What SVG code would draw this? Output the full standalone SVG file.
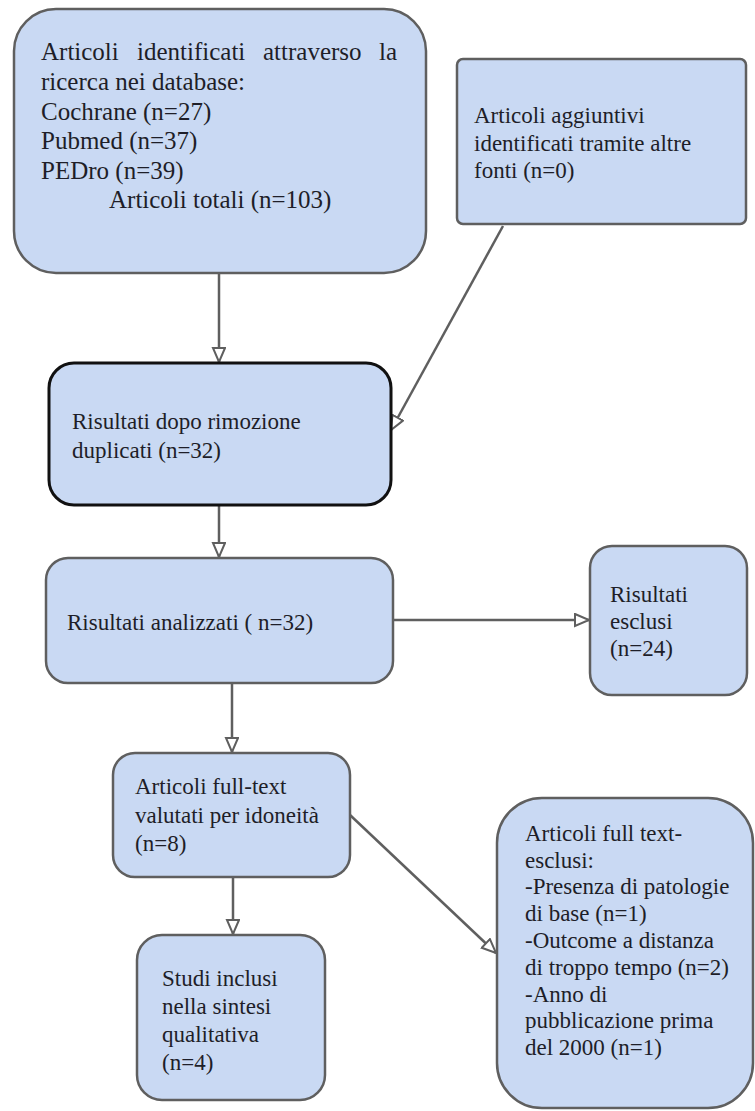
<svg xmlns="http://www.w3.org/2000/svg" width="755" height="1111" viewBox="0 0 755 1111">
<style>
.box{fill:#c9d9f3;stroke:#5f5f5f;stroke-width:2.5}
.dark{stroke:#111;stroke-width:3}
text{font-family:'Liberation Serif',Tinos,'DejaVu Serif',serif;font-size:23px;fill:#1e1e28}
.big{font-size:25px}
.edge{fill:none;stroke:#5f5f5f;stroke-width:2.5}
</style>
<defs>
<marker id="arr" markerUnits="userSpaceOnUse" markerWidth="18" markerHeight="16" refX="15" refY="7" orient="auto">
<path d="M1,1 L15,7 L1,13 Z" fill="#fff" stroke="#5f5f5f" stroke-width="2"/>
</marker>
</defs>
<rect width="755" height="1111" fill="#fff"/>
<g id="connectors">
<line class="edge" x1="219" y1="273" x2="219" y2="362" marker-end="url(#arr)"/>
<line class="edge" x1="503" y1="226" x2="391" y2="430" marker-end="url(#arr)"/>
<line class="edge" x1="219" y1="505" x2="219" y2="557" marker-end="url(#arr)"/>
<line class="edge" x1="393" y1="620" x2="589" y2="620" marker-end="url(#arr)"/>
<line class="edge" x1="232" y1="683" x2="232" y2="752" marker-end="url(#arr)"/>
<line class="edge" x1="233" y1="877" x2="233" y2="934" marker-end="url(#arr)"/>
<line class="edge" x1="350" y1="815" x2="496" y2="953" marker-end="url(#arr)"/>
</g>
<g id="n1">
<rect class="box" x="14" y="9" width="412" height="264" rx="42"/>
<text class="big" y="60"><tspan x="41">Articoli</tspan><tspan x="137">identificati</tspan><tspan x="263">attraverso</tspan><tspan x="379">la</tspan></text>
<text class="big" x="41" y="90">ricerca nei database:</text>
<text class="big" x="41" y="120">Cochrane (n=27)</text>
<text class="big" x="41" y="149">Pubmed (n=37)</text>
<text class="big" x="41" y="179">PEDro (n=39)</text>
<text class="big" x="109" y="208">Articoli totali (n=103)</text>
</g>
<g id="n2">
<rect class="box" x="457" y="59" width="289" height="165" rx="6"/>
<text x="474" y="123">Articoli aggiuntivi</text>
<text x="474" y="151">identificati tramite altre</text>
<text x="474" y="178">fonti (n=0)</text>
</g>
<g id="n3">
<rect class="box dark" x="49" y="363" width="342" height="142" rx="25"/>
<text x="72" y="429">Risultati dopo rimozione</text>
<text x="72" y="458">duplicati (n=32)</text>
</g>
<g id="n4">
<rect class="box" x="46" y="558" width="347" height="125" rx="22"/>
<text x="67" y="630">Risultati analizzati ( n=32)</text>
</g>
<g id="n5">
<rect class="box" x="590" y="546" width="157" height="149" rx="22"/>
<text x="610" y="602">Risultati</text>
<text x="610" y="629">esclusi</text>
<text x="610" y="656">(n=24)</text>
</g>
<g id="n6">
<rect class="box" x="113" y="753" width="237" height="124" rx="22"/>
<text x="135" y="794">Articoli full-text</text>
<text x="135" y="823">valutati per idoneità</text>
<text x="135" y="851">(n=8)</text>
</g>
<g id="n7">
<rect class="box" x="137" y="935" width="188" height="165" rx="25"/>
<text x="162" y="986">Studi inclusi</text>
<text x="162" y="1014">nella sintesi</text>
<text x="162" y="1042">qualitativa</text>
<text x="162" y="1070">(n=4)</text>
</g>
<g id="n8">
<rect class="box" x="497" y="798" width="256" height="310" rx="45"/>
<text x="525" y="841">Articoli full text-</text>
<text x="525" y="868">esclusi:</text>
<text x="525" y="894">-Presenza di patologie</text>
<text x="525" y="921">di base (n=1)</text>
<text x="525" y="948">-Outcome a distanza</text>
<text x="525" y="975">di troppo tempo (n=2)</text>
<text x="525" y="1002">-Anno di</text>
<text x="525" y="1028">pubblicazione prima</text>
<text x="525" y="1055">del 2000 (n=1)</text>
</g>
</svg>
